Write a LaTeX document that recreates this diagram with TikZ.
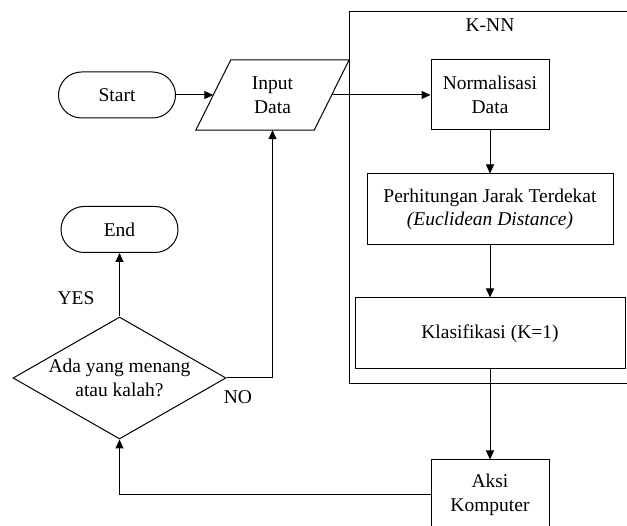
\documentclass[tikz,border=0pt]{standalone}
\usepackage{fontspec}
\setmainfont{Liberation Serif}
\usetikzlibrary{arrows.meta,shapes.geometric,shapes.misc}
\begin{document}
\begin{tikzpicture}[x=1pt,y=-1pt,
  every node/.style={font=\fontsize{19.5}{23.5}\selectfont, align=center, inner sep=0pt},
  arr/.style={line width=1pt, -{Triangle[length=9pt,width=8pt]}},
  term/.style={rounded rectangle, draw, line width=1pt, minimum width=117pt, minimum height=46pt},
  proc/.style={rectangle, draw, line width=1pt},
  iobody/.style={rectangle, minimum width=118pt, minimum height=70pt},
  decis/.style={diamond, draw, line width=1pt, minimum width=213pt, minimum height=122pt, aspect=1.75}]
\useasboundingbox (0,0) rectangle (627,526);
\clip (0,0) rectangle (627,526);
% K-NN group box
\node[proc, minimum width=300pt, minimum height=372pt, anchor=north west] (knn) at (349,11) {};
\node (knnlbl) at (490,25) {K-NN};
% nodes
\node[term] (start) at (117,95) {Start};
\node[iobody] (inp) at (272.5,95) {Input\\Data};
\draw[line width=1pt] ([xshift=-17.5pt]inp.south west) -- ([xshift=17.5pt]inp.north west)
  -- ([xshift=17.5pt]inp.north east) -- ([xshift=-17.5pt]inp.south east) -- cycle;
\node[proc, minimum width=118pt, minimum height=70pt] (norm) at (490,95) {Normalisasi\\Data};
\node[proc, minimum width=246pt, minimum height=71pt] (perh) at (490,209.5) {Perhitungan Jarak Terdekat\\\textit{(Euclidean Distance)}};
\node[proc, minimum width=270pt, minimum height=71pt] (klas) at (490,333.5) {Klasifikasi (K=1)};
\node[proc, minimum width=118pt, minimum height=70pt] (aksi) at (490,495) {Aksi\\Komputer};
\node[decis] (dec) at (119.5,378) {};
\node (dectxt) at (dec.center) {Ada yang menang\\atau kalah?};
\node[term] (endn) at (119.5,229.5) {End};
\node (yes) at (76,298) {YES};
\node (no) at (238,397) {NO};
% connectors
\draw[arr] (start.east) -- (inp.west);
\draw[arr] (inp.east) -- (norm.west);
\draw[arr] (norm.south) -- (perh.north);
\draw[arr] (perh.south) -- (klas.north);
\draw[arr] (klas.south) -- (aksi.north);
\draw[arr] (aksi.west) -| (dec.south);
\draw[arr] (dec.east) -| (inp.south);
\draw[arr] (dec.north) -- (endn.south);
\end{tikzpicture}
\end{document}
